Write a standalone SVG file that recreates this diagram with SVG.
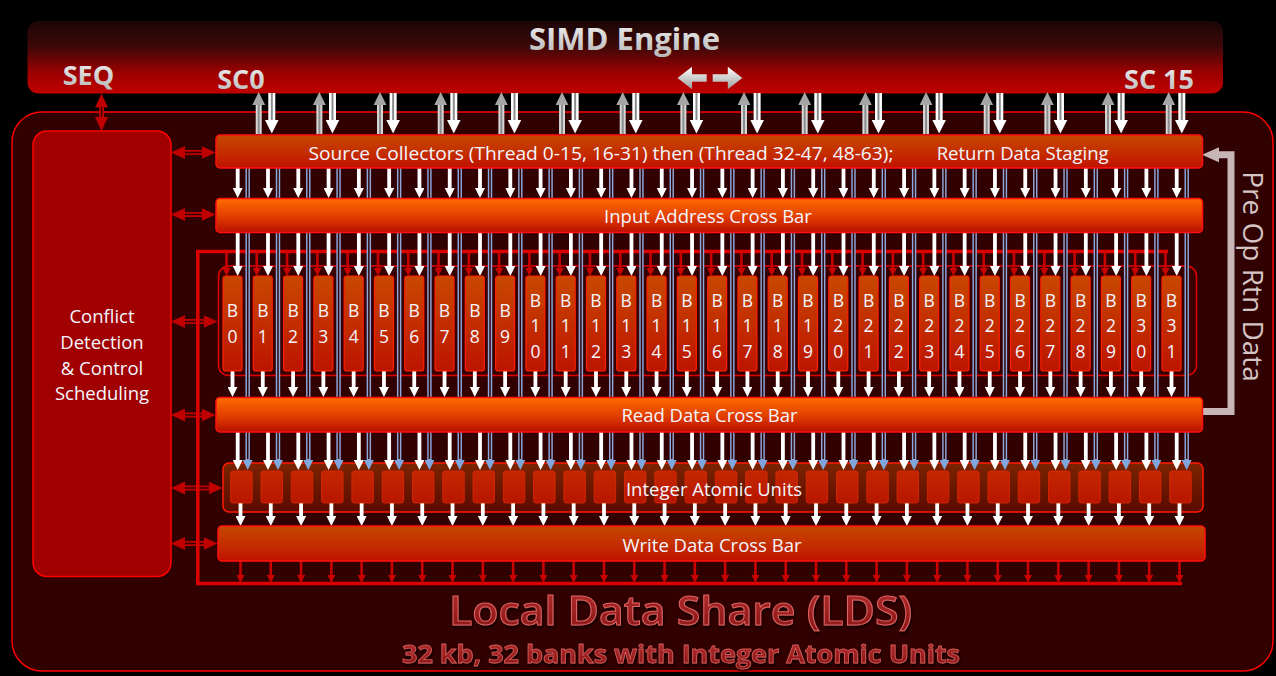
<svg xmlns="http://www.w3.org/2000/svg" width="1276" height="676" viewBox="0 0 1276 676">
<defs>
  <linearGradient id="gSimd" x1="0" y1="0" x2="0" y2="1">
    <stop offset="0" stop-color="#1c0606"/><stop offset="0.35" stop-color="#3c0808"/><stop offset="0.7" stop-color="#9a0000"/><stop offset="1" stop-color="#c20000"/>
  </linearGradient>
  <linearGradient id="gBright" x1="0" y1="0" x2="0" y2="1">
    <stop offset="0" stop-color="#ff6c00"/><stop offset="0.55" stop-color="#e03c00"/><stop offset="1" stop-color="#b81000"/>
  </linearGradient>
  <linearGradient id="gDark" x1="0" y1="0" x2="0" y2="1">
    <stop offset="0" stop-color="#c64800"/><stop offset="0.6" stop-color="#c42a00"/><stop offset="1" stop-color="#c01000"/>
  </linearGradient>
  <linearGradient id="gBank" x1="0" y1="0" x2="0" y2="1">
    <stop offset="0" stop-color="#c84800"/><stop offset="1" stop-color="#bc1400"/>
  </linearGradient>
  <linearGradient id="gIau" x1="0" y1="0" x2="0" y2="1">
    <stop offset="0" stop-color="#7c2400"/><stop offset="1" stop-color="#5a0a00"/>
  </linearGradient>
  <linearGradient id="gUnit" x1="0" y1="0" x2="0" y2="1">
    <stop offset="0" stop-color="#c42600"/><stop offset="1" stop-color="#b81600"/>
  </linearGradient>
  <linearGradient id="gTxt" x1="0" y1="0" x2="0" y2="1">
    <stop offset="0" stop-color="#f6f6f6"/><stop offset="1" stop-color="#b4b4b4"/>
  </linearGradient>
  <linearGradient id="gLR" x1="0" y1="0" x2="0" y2="1">
    <stop offset="0" stop-color="#ffffff"/><stop offset="1" stop-color="#9c9c9c"/>
  </linearGradient>
  <linearGradient id="gLds" x1="0" y1="0" x2="0" y2="1">
    <stop offset="0" stop-color="#b83030"/><stop offset="1" stop-color="#841414"/>
  </linearGradient>
  <filter id="sh" x="-10%" y="-20%" width="120%" height="150%">
    <feDropShadow dx="1" dy="2" stdDeviation="1.2" flood-color="#000" flood-opacity="0.7"/>
  </filter>
  <marker id="mW" viewBox="0 0 10 10" refX="3" refY="5" markerWidth="10" markerHeight="10" markerUnits="userSpaceOnUse" orient="auto">
    <path d="M0,0 L10,5 L0,10 z" fill="#ffffff"/>
  </marker>
  <marker id="mR" viewBox="0 0 8 8" refX="2" refY="4" markerWidth="8" markerHeight="8" markerUnits="userSpaceOnUse" orient="auto">
    <path d="M0,0 L8,4 L0,8 z" fill="#c80000"/>
  </marker>
  <marker id="mB" viewBox="0 0 10 10" refX="2" refY="5" markerWidth="10" markerHeight="10" markerUnits="userSpaceOnUse" orient="auto">
    <path d="M0,0 L10,5 L0,10 z" fill="#80a6de"/>
  </marker>
  <marker id="mD" viewBox="0 0 14 13" refX="3" refY="6.5" markerWidth="14" markerHeight="13" markerUnits="userSpaceOnUse" orient="auto-start-reverse">
    <path d="M0,0 L14,6.5 L0,13 z" fill="#c00000"/>
  </marker>
  <marker id="mP" viewBox="0 0 17 15" refX="3" refY="7.5" markerWidth="17" markerHeight="15" markerUnits="userSpaceOnUse" orient="auto">
    <path d="M0,0 L17,7.5 L0,15 z" fill="#c8b6b6"/>
  </marker>
  <style>
    .f{font-family:"Open Sans","Noto Sans","Liberation Sans",sans-serif;}
    .hd{font-weight:700;fill:url(#gTxt);}
    .bt{font-size:18.5px;fill:#f4f6ff;text-anchor:middle;}
    .bk{font-size:17.5px;fill:#f4f6ff;text-anchor:middle;}
    .bank{fill:url(#gBank);stroke:#ff2000;stroke-width:1.2;}
    .unit{fill:url(#gUnit);stroke:#e02800;stroke-width:0.8;}
    .wa{stroke:#ffffff;stroke-width:3.8;fill:none;}
    .ra{stroke:#c80000;stroke-width:2.6;fill:none;}
    .b1{stroke:#8ea8dc;stroke-width:4.4;fill:none;}
    .b2{stroke:#2e0606;stroke-width:1.5;fill:none;}
    .d1{stroke:#c00000;stroke-width:5;fill:none;}
    .d2{stroke:#3a0000;stroke-width:1.5;fill:none;}
    .bar{stroke:#ff1010;stroke-width:1.5;}
  </style>
  <g id="col">
    <line class="b1" x1="247.7" y1="168" x2="247.7" y2="462" marker-end="url(#mB)"/>
    <line class="b2" x1="247.7" y1="168" x2="247.7" y2="459"/>
    <line class="wa" x1="237.7" y1="168" x2="237.7" y2="191" marker-end="url(#mW)"/>
    <line class="wa" x1="237.7" y1="232" x2="237.7" y2="269" marker-end="url(#mW)"/>
    <line class="ra" x1="226.5" y1="252" x2="226.5" y2="270" marker-end="url(#mR)"/>
    <line class="wa" x1="232.5" y1="371" x2="232.5" y2="390" marker-end="url(#mW)"/>
    <line class="wa" x1="237.7" y1="432" x2="237.7" y2="463" marker-end="url(#mW)"/>
    <line class="wa" x1="240.5" y1="503" x2="240.5" y2="519" marker-end="url(#mW)"/>
    <line class="ra" x1="240.5" y1="561" x2="240.5" y2="577" marker-end="url(#mR)"/>
  </g>
  <g id="pair">
    <line x1="258.7" y1="134" x2="258.7" y2="104" stroke="#d6d6d6" stroke-width="6"/>
    <line x1="258.7" y1="134" x2="258.7" y2="104" stroke="#8c8c8c" stroke-width="2"/>
    <polygon points="252.3,105 258.7,92 265.1,105" fill="#a6a6a6"/>
    <line x1="271.8" y1="93" x2="271.8" y2="121" stroke="#ffffff" stroke-width="7"/>
    <line x1="271.8" y1="93" x2="271.8" y2="120" stroke="#8c8c8c" stroke-width="2"/>
    <polygon points="265,120 278.6,120 271.8,133.5" fill="#ffffff"/>
  </g>
  <rect id="u" y="471" width="21.5" height="32" rx="2.5" class="unit"/>
  <rect id="bk" width="19" height="95" rx="2.5" class="bank"/>
</defs>

<rect width="1276" height="676" fill="#000000"/>

<g id="simd-engine">
  <rect x="27.5" y="21" width="1195.5" height="72.5" rx="11" fill="url(#gSimd)"/>
  <text class="f hd" x="624.5" y="50" font-size="31" text-anchor="middle">SIMD Engine</text>
  <text class="f hd" x="88.5" y="85" font-size="27" text-anchor="middle">SEQ</text>
  <text class="f hd" x="241" y="89" font-size="27" text-anchor="middle">SC0</text>
  <text class="f hd" x="1159" y="89" font-size="27" text-anchor="middle">SC 15</text>
  <path d="M677.5,78 L692,66.7 L692,74.2 L706.7,74.2 L706.7,81.8 L692,81.8 L692,89.3 Z" fill="url(#gLR)"/>
  <path d="M742.3,78 L727.8,66.7 L727.8,74.2 L712.7,74.2 L712.7,81.8 L727.8,81.8 L727.8,89.3 Z" fill="url(#gLR)"/>
</g>

<g id="lds">
  <rect x="12" y="112" width="1261" height="559" rx="30" fill="#310000" stroke="#ff0000" stroke-width="1.5"/>
  <g filter="url(#sh)">
    <text class="f" x="680.5" y="624.5" font-size="40" font-weight="600" text-anchor="middle" textLength="463" lengthAdjust="spacingAndGlyphs" fill="url(#gLds)" stroke="#dc6262" stroke-width="1">Local Data Share (LDS)</text>
    <text class="f" x="681" y="662.5" font-size="24.5" font-weight="700" text-anchor="middle" textLength="558" lengthAdjust="spacingAndGlyphs" fill="url(#gLds)" stroke="#d45a5a" stroke-width="0.8">32 kb, 32 banks with Integer Atomic Units</text>
  </g>
</g>

<g id="conflict-detection">
  <rect x="33" y="131" width="138" height="445.5" rx="14" fill="#a00000" stroke="#ff0000" stroke-width="1.5"/>
  <text class="f bt" x="102" y="323">Conflict</text>
  <text class="f bt" x="102" y="348.5">Detection</text>
  <text class="f bt" x="102" y="374.5">&amp; Control</text>
  <text class="f bt" x="102" y="400">Scheduling</text>
</g>

<g id="bank-array-frame">
  <rect x="218.5" y="266" width="978" height="109.5" rx="10" fill="#380000" stroke="#e00000" stroke-width="1.5"/>
</g>
<g id="iau-frame">
  <rect x="223" y="463" width="980" height="49" rx="6" fill="url(#gIau)" stroke="#ff1a00" stroke-width="1.5"/>
</g>

<g id="connectors">
  <line class="d1" x1="101.5" y1="104.5" x2="101.5" y2="120" marker-start="url(#mD)" marker-end="url(#mD)"/>
  <line class="d2" x1="101.5" y1="107" x2="101.5" y2="117"/>
  <line class="d1" x1="182" y1="152.5" x2="204.5" y2="152.5" marker-start="url(#mD)" marker-end="url(#mD)"/>
  <line class="d2" x1="185" y1="152.5" x2="201.5" y2="152.5"/>
  <line class="d1" x1="182" y1="214.5" x2="204.5" y2="214.5" marker-start="url(#mD)" marker-end="url(#mD)"/>
  <line class="d2" x1="185" y1="214.5" x2="201.5" y2="214.5"/>
  <line class="d1" x1="182" y1="321.5" x2="206.5" y2="321.5" marker-start="url(#mD)" marker-end="url(#mD)"/>
  <line class="d2" x1="185" y1="321.5" x2="203.5" y2="321.5"/>
  <line class="d1" x1="182" y1="415" x2="204.5" y2="415" marker-start="url(#mD)" marker-end="url(#mD)"/>
  <line class="d2" x1="185" y1="415" x2="201.5" y2="415"/>
  <line class="d1" x1="182" y1="488" x2="211.5" y2="488" marker-start="url(#mD)" marker-end="url(#mD)"/>
  <line class="d2" x1="185" y1="488" x2="208.5" y2="488"/>
  <line class="d1" x1="182" y1="543.5" x2="206.5" y2="543.5" marker-start="url(#mD)" marker-end="url(#mD)"/>
  <line class="d2" x1="185" y1="543.5" x2="203.5" y2="543.5"/>
  <path d="M1168,251.5 H197.8 V583.5 H1182" fill="none" stroke="#dc0000" stroke-width="3.5"/>
  <use href="#pair"/>
  <use href="#pair" x="60.67"/>
  <use href="#pair" x="121.33"/>
  <use href="#pair" x="182"/>
  <use href="#pair" x="242.67"/>
  <use href="#pair" x="303.33"/>
  <use href="#pair" x="364"/>
  <use href="#pair" x="424.67"/>
  <use href="#pair" x="485.33"/>
  <use href="#pair" x="546"/>
  <use href="#pair" x="606.67"/>
  <use href="#pair" x="667.33"/>
  <use href="#pair" x="728"/>
  <use href="#pair" x="788.67"/>
  <use href="#pair" x="849.33"/>
  <use href="#pair" x="910"/>
  <use href="#col"/>
  <use href="#col" x="30.29"/>
  <use href="#col" x="60.58"/>
  <use href="#col" x="90.87"/>
  <use href="#col" x="121.16"/>
  <use href="#col" x="151.45"/>
  <use href="#col" x="181.74"/>
  <use href="#col" x="212.03"/>
  <use href="#col" x="242.32"/>
  <use href="#col" x="272.61"/>
  <use href="#col" x="302.9"/>
  <use href="#col" x="333.19"/>
  <use href="#col" x="363.48"/>
  <use href="#col" x="393.77"/>
  <use href="#col" x="424.06"/>
  <use href="#col" x="454.35"/>
  <use href="#col" x="484.64"/>
  <use href="#col" x="514.93"/>
  <use href="#col" x="545.22"/>
  <use href="#col" x="575.51"/>
  <use href="#col" x="605.8"/>
  <use href="#col" x="636.09"/>
  <use href="#col" x="666.38"/>
  <use href="#col" x="696.67"/>
  <use href="#col" x="726.96"/>
  <use href="#col" x="757.25"/>
  <use href="#col" x="787.54"/>
  <use href="#col" x="817.83"/>
  <use href="#col" x="848.12"/>
  <use href="#col" x="878.41"/>
  <use href="#col" x="908.7"/>
  <use href="#col" x="938.99"/>
  <path d="M1202,411.5 H1231 V154.8 H1216" fill="none" stroke="#c8b6b6" stroke-width="7" marker-end="url(#mP)"/>
</g>

<g id="source-collectors">
  <rect class="bar" x="216" y="135" width="986.5" height="33" rx="4" fill="url(#gDark)"/>
  <text class="f" x="308.5" y="159.5" font-size="18.5" fill="#f4f6ff" textLength="585" lengthAdjust="spacingAndGlyphs">Source Collectors (Thread 0-15, 16-31) then (Thread 32-47, 48-63);</text>
  <text class="f" x="936.7" y="159.5" font-size="18.5" fill="#f4f6ff">Return Data Staging</text>
</g>
<g id="input-address-crossbar">
  <rect class="bar" x="216" y="198.5" width="986.5" height="34" rx="4" fill="url(#gBright)"/>
  <text class="f bt" x="708" y="222.5">Input Address Cross Bar</text>
</g>
<g id="read-data-crossbar">
  <rect class="bar" x="216" y="397.5" width="986.5" height="34.5" rx="4" fill="url(#gBright)"/>
  <text class="f bt" x="709.5" y="421.5">Read Data Cross Bar</text>
</g>
<g id="integer-atomic-units">
  <use href="#u" x="230.7"/><use href="#u" x="260.99"/><use href="#u" x="291.28"/><use href="#u" x="321.57"/>
  <use href="#u" x="351.86"/><use href="#u" x="382.15"/><use href="#u" x="412.44"/><use href="#u" x="442.73"/>
  <use href="#u" x="473.02"/><use href="#u" x="503.31"/><use href="#u" x="533.6"/><use href="#u" x="563.89"/>
  <use href="#u" x="594.18"/><use href="#u" x="624.47"/><use href="#u" x="654.76"/><use href="#u" x="685.05"/>
  <use href="#u" x="715.34"/><use href="#u" x="745.63"/><use href="#u" x="775.92"/><use href="#u" x="806.21"/>
  <use href="#u" x="836.5"/><use href="#u" x="866.79"/><use href="#u" x="897.08"/><use href="#u" x="927.37"/>
  <use href="#u" x="957.66"/><use href="#u" x="987.95"/><use href="#u" x="1018.24"/><use href="#u" x="1048.53"/>
  <use href="#u" x="1078.82"/><use href="#u" x="1109.11"/><use href="#u" x="1139.4"/><use href="#u" x="1169.69"/>
  <text class="f bt" x="714" y="496">Integer Atomic Units</text>
</g>
<g id="write-data-crossbar">
  <rect class="bar" x="218" y="526" width="987" height="35" rx="4" fill="url(#gDark)"/>
  <text class="f bt" x="712" y="551.5">Write Data Cross Bar</text>
</g>

<g id="pre-op-rtn-data-label">
  <text class="f" transform="translate(1243,276.5) rotate(90)" font-size="28" fill="#d4c4c4" text-anchor="middle">Pre Op Rtn Data</text>
</g>

<g id="B0" transform="translate(223,276)"><use href="#bk"/><text class="f bk" x="9.5" y="40.5">B</text><text class="f bk" x="9.5" y="66.5">0</text></g>
<g id="B1" transform="translate(253.29,276)"><use href="#bk"/><text class="f bk" x="9.5" y="40.5">B</text><text class="f bk" x="9.5" y="66.5">1</text></g>
<g id="B2" transform="translate(283.58,276)"><use href="#bk"/><text class="f bk" x="9.5" y="40.5">B</text><text class="f bk" x="9.5" y="66.5">2</text></g>
<g id="B3" transform="translate(313.87,276)"><use href="#bk"/><text class="f bk" x="9.5" y="40.5">B</text><text class="f bk" x="9.5" y="66.5">3</text></g>
<g id="B4" transform="translate(344.16,276)"><use href="#bk"/><text class="f bk" x="9.5" y="40.5">B</text><text class="f bk" x="9.5" y="66.5">4</text></g>
<g id="B5" transform="translate(374.45,276)"><use href="#bk"/><text class="f bk" x="9.5" y="40.5">B</text><text class="f bk" x="9.5" y="66.5">5</text></g>
<g id="B6" transform="translate(404.74,276)"><use href="#bk"/><text class="f bk" x="9.5" y="40.5">B</text><text class="f bk" x="9.5" y="66.5">6</text></g>
<g id="B7" transform="translate(435.03,276)"><use href="#bk"/><text class="f bk" x="9.5" y="40.5">B</text><text class="f bk" x="9.5" y="66.5">7</text></g>
<g id="B8" transform="translate(465.32,276)"><use href="#bk"/><text class="f bk" x="9.5" y="40.5">B</text><text class="f bk" x="9.5" y="66.5">8</text></g>
<g id="B9" transform="translate(495.61,276)"><use href="#bk"/><text class="f bk" x="9.5" y="40.5">B</text><text class="f bk" x="9.5" y="66.5">9</text></g>
<g id="B10" transform="translate(525.9,276)"><use href="#bk"/><text class="f bk" x="9.5" y="30.5">B</text><text class="f bk" x="9.5" y="56">1</text><text class="f bk" x="9.5" y="81.5">0</text></g>
<g id="B11" transform="translate(556.19,276)"><use href="#bk"/><text class="f bk" x="9.5" y="30.5">B</text><text class="f bk" x="9.5" y="56">1</text><text class="f bk" x="9.5" y="81.5">1</text></g>
<g id="B12" transform="translate(586.48,276)"><use href="#bk"/><text class="f bk" x="9.5" y="30.5">B</text><text class="f bk" x="9.5" y="56">1</text><text class="f bk" x="9.5" y="81.5">2</text></g>
<g id="B13" transform="translate(616.77,276)"><use href="#bk"/><text class="f bk" x="9.5" y="30.5">B</text><text class="f bk" x="9.5" y="56">1</text><text class="f bk" x="9.5" y="81.5">3</text></g>
<g id="B14" transform="translate(647.06,276)"><use href="#bk"/><text class="f bk" x="9.5" y="30.5">B</text><text class="f bk" x="9.5" y="56">1</text><text class="f bk" x="9.5" y="81.5">4</text></g>
<g id="B15" transform="translate(677.35,276)"><use href="#bk"/><text class="f bk" x="9.5" y="30.5">B</text><text class="f bk" x="9.5" y="56">1</text><text class="f bk" x="9.5" y="81.5">5</text></g>
<g id="B16" transform="translate(707.64,276)"><use href="#bk"/><text class="f bk" x="9.5" y="30.5">B</text><text class="f bk" x="9.5" y="56">1</text><text class="f bk" x="9.5" y="81.5">6</text></g>
<g id="B17" transform="translate(737.93,276)"><use href="#bk"/><text class="f bk" x="9.5" y="30.5">B</text><text class="f bk" x="9.5" y="56">1</text><text class="f bk" x="9.5" y="81.5">7</text></g>
<g id="B18" transform="translate(768.22,276)"><use href="#bk"/><text class="f bk" x="9.5" y="30.5">B</text><text class="f bk" x="9.5" y="56">1</text><text class="f bk" x="9.5" y="81.5">8</text></g>
<g id="B19" transform="translate(798.51,276)"><use href="#bk"/><text class="f bk" x="9.5" y="30.5">B</text><text class="f bk" x="9.5" y="56">1</text><text class="f bk" x="9.5" y="81.5">9</text></g>
<g id="B20" transform="translate(828.8,276)"><use href="#bk"/><text class="f bk" x="9.5" y="30.5">B</text><text class="f bk" x="9.5" y="56">2</text><text class="f bk" x="9.5" y="81.5">0</text></g>
<g id="B21" transform="translate(859.09,276)"><use href="#bk"/><text class="f bk" x="9.5" y="30.5">B</text><text class="f bk" x="9.5" y="56">2</text><text class="f bk" x="9.5" y="81.5">1</text></g>
<g id="B22" transform="translate(889.38,276)"><use href="#bk"/><text class="f bk" x="9.5" y="30.5">B</text><text class="f bk" x="9.5" y="56">2</text><text class="f bk" x="9.5" y="81.5">2</text></g>
<g id="B23" transform="translate(919.67,276)"><use href="#bk"/><text class="f bk" x="9.5" y="30.5">B</text><text class="f bk" x="9.5" y="56">2</text><text class="f bk" x="9.5" y="81.5">3</text></g>
<g id="B24" transform="translate(949.96,276)"><use href="#bk"/><text class="f bk" x="9.5" y="30.5">B</text><text class="f bk" x="9.5" y="56">2</text><text class="f bk" x="9.5" y="81.5">4</text></g>
<g id="B25" transform="translate(980.25,276)"><use href="#bk"/><text class="f bk" x="9.5" y="30.5">B</text><text class="f bk" x="9.5" y="56">2</text><text class="f bk" x="9.5" y="81.5">5</text></g>
<g id="B26" transform="translate(1010.54,276)"><use href="#bk"/><text class="f bk" x="9.5" y="30.5">B</text><text class="f bk" x="9.5" y="56">2</text><text class="f bk" x="9.5" y="81.5">6</text></g>
<g id="B27" transform="translate(1040.83,276)"><use href="#bk"/><text class="f bk" x="9.5" y="30.5">B</text><text class="f bk" x="9.5" y="56">2</text><text class="f bk" x="9.5" y="81.5">7</text></g>
<g id="B28" transform="translate(1071.12,276)"><use href="#bk"/><text class="f bk" x="9.5" y="30.5">B</text><text class="f bk" x="9.5" y="56">2</text><text class="f bk" x="9.5" y="81.5">8</text></g>
<g id="B29" transform="translate(1101.41,276)"><use href="#bk"/><text class="f bk" x="9.5" y="30.5">B</text><text class="f bk" x="9.5" y="56">2</text><text class="f bk" x="9.5" y="81.5">9</text></g>
<g id="B30" transform="translate(1131.7,276)"><use href="#bk"/><text class="f bk" x="9.5" y="30.5">B</text><text class="f bk" x="9.5" y="56">3</text><text class="f bk" x="9.5" y="81.5">0</text></g>
<g id="B31" transform="translate(1161.99,276)"><use href="#bk"/><text class="f bk" x="9.5" y="30.5">B</text><text class="f bk" x="9.5" y="56">3</text><text class="f bk" x="9.5" y="81.5">1</text></g>
</svg>
